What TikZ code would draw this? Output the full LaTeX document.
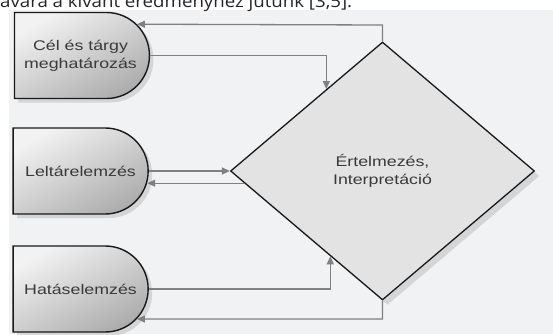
\documentclass[tikz,border=0pt]{standalone}
\usepackage{fontspec}
\setmainfont{Liberation Sans}
\newfontfamily\boxfont[FakeStretch=1.27]{Liberation Sans}
\newfontfamily\topfont[FakeStretch=1.1]{Open Sans}
\usetikzlibrary{shapes.misc,shapes.geometric,shadows,arrows.meta,calc}
\definecolor{bg}{HTML}{F1F2F4}
\definecolor{conn}{HTML}{808080}
\definecolor{txt}{HTML}{3A3A3A}
\tikzset{
  stepbox/.style={rounded rectangle, rounded rectangle left arc=none,
    minimum width=135pt, minimum height=86pt, inner sep=0pt,
    draw=black!90, line width=1.4pt,
    top color=black!5, bottom color=black!32, shading angle=30,
    drop shadow={shadow xshift=4pt, shadow yshift=-4pt, fill=black!30, opacity=0.45},
    font=\boxfont\fontsize{14}{18}\selectfont, text=txt, align=center},
  decbox/.style={diamond, minimum width=304pt, minimum height=258pt, inner sep=0pt,
    draw=black!90, line width=1.3pt, fill=black!11,
    drop shadow={shadow xshift=5pt, shadow yshift=-5pt, fill=black!30, opacity=0.45},
    font=\boxfont\fontsize{14}{18}\selectfont, text=txt, align=center},
  arr/.style={draw=conn, line width=1.3pt, -{Triangle[length=8pt,width=7pt]}},
}
\begin{document}
\begin{tikzpicture}[x=1pt,y=-1pt]
\useasboundingbox (0,0) rectangle (553,334);
\fill[bg] (9,10) rectangle (553,334);
\node[anchor=base west, inner sep=0pt, font=\topfont\fontsize{17}{20}\selectfont, text=black!85] (top) at (0,7.3) {\makebox[352pt][s]{avára a kívánt eredményhez jutunk [3,5].}};

\node[stepbox] (b1) at (80.5,55.5) {Cél és tárgy\\meghatározás};
\node[stepbox] (b2) at (80.5,171) {Leltárelemzés};
\node[stepbox] (b3) at (80.5,289) {Hatáselemzés};
\node[decbox] (d) at (382.5,171) {Értelmezés,\\Interpretáció};

\coordinate (p1) at ($(d.west)!0.632!(d.north)$);
\coordinate (p2) at ($(d.west)!0.094!(d.south)$);
\coordinate (p3) at ($(d.west)!0.658!(d.south)$);

\draw[arr] (d.north) -- (d.north |- 0,25) -- (b1.29);
\draw[arr] (b1.east) -| (p1);
\draw[arr] (b2.east) -- (d.west);
\draw[arr] (p2) -- (p2 -| b2.-10);
\draw[arr] (b3.east) -| (p3);
\draw[arr] (d.south) -- (d.south |- 0,319) -- (b3.-28.5);
\end{tikzpicture}
\end{document}
